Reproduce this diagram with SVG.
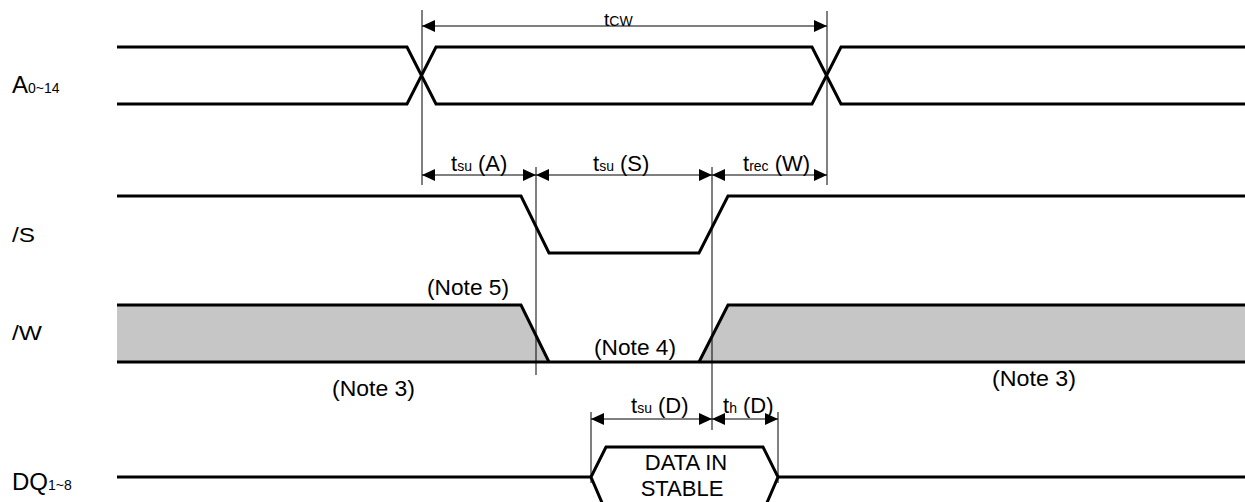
<svg xmlns="http://www.w3.org/2000/svg" width="1245" height="502" viewBox="0 0 1245 502">
<style>
.sig{fill:none;stroke:#000;stroke-width:3;stroke-linejoin:miter}
.ext{fill:none;stroke:#000;stroke-width:1}
.dim{fill:none;stroke:#000;stroke-width:1;marker-start:url(#ah);marker-end:url(#ah)}
.gray{fill:#c6c6c6;stroke:none}
text{font-family:"Liberation Sans",Arial,sans-serif;fill:#000}
.lbl{font-size:24px}
.lbl2{font-size:20px}
.sub{font-size:14px}
.t{font-size:22px}
.note{font-size:22px}
.data{font-size:22px}
</style>
<defs>
<marker id="ah" viewBox="0 0 13 12" refX="13" refY="6" markerWidth="13" markerHeight="12" markerUnits="userSpaceOnUse" orient="auto-start-reverse">
<path d="M0,0 L13,6 L0,12 z" fill="#000"/>
</marker>
</defs>
<rect width="1245" height="502" fill="#fff"/>

<g id="labels">
<text x="12" y="93" class="lbl">A<tspan class="sub">0~14</tspan></text>
<text x="12" y="242" class="lbl2" textLength="23" lengthAdjust="spacingAndGlyphs">/S</text>
<text x="12" y="340" class="lbl2" textLength="30" lengthAdjust="spacingAndGlyphs">/W</text>
<text x="12" y="490" class="lbl">DQ<tspan class="sub">1~8</tspan></text>
</g>

<g id="sig-A">
<path class="sig" d="M117,47 L407,47 L436,104 L812,104 L841,47 L1245,47"/>
<path class="sig" d="M117,104 L407,104 L436,47 L812,47 L841,104 L1245,104"/>
</g>

<g id="sig-S">
<path class="sig" d="M117,196 L521,196 L549,253 L699,253 L728,196 L1245,196"/>
</g>

<g id="sig-W">
<polygon class="gray" points="117,305 521,305 549,362 117,362"/>
<polygon class="gray" points="699,362 728,305 1245,305 1245,362"/>
<path class="sig" d="M117,305 L521,305 L549,362"/>
<path class="sig" d="M699,362 L728,305 L1245,305"/>
<path class="sig" d="M117,362 L1245,362"/>
<text x="427" y="295" class="note" textLength="82" lengthAdjust="spacingAndGlyphs">(Note 5)</text>
<text x="594" y="355" class="note" textLength="82" lengthAdjust="spacingAndGlyphs">(Note 4)</text>
<text x="332" y="396" class="note" textLength="83" lengthAdjust="spacingAndGlyphs">(Note 3)</text>
<text x="992" y="386" class="note" textLength="84" lengthAdjust="spacingAndGlyphs">(Note 3)</text>
</g>

<g id="sig-DQ">
<path class="sig" d="M117,477 L591,477"/>
<path class="sig" d="M778,477 L1245,477"/>
<path class="sig" d="M606,512 L591,477 L606,447 L763,447 L778,477 L763,512"/>
<text x="686" y="470" class="data" text-anchor="middle">DATA IN</text>
<text x="682" y="496" class="data" text-anchor="middle" font-size="21">STABLE</text>
</g>

<g id="connectors">
<line class="ext" x1="422" y1="10" x2="422" y2="185"/>
<line class="ext" x1="827" y1="11" x2="827" y2="185"/>
<line class="ext" x1="536" y1="167" x2="536" y2="375"/>
<line class="ext" x1="712" y1="167" x2="712" y2="430"/>
<line class="ext" x1="591" y1="412" x2="591" y2="483"/>
<line class="ext" x1="778" y1="412" x2="778" y2="483"/>
<line class="dim" x1="422" y1="26" x2="827" y2="26"/>
<line class="dim" x1="422" y1="175" x2="536" y2="175"/>
<line class="dim" x1="536" y1="175" x2="712" y2="175"/>
<line class="dim" x1="712" y1="175" x2="827" y2="175"/>
<line class="dim" x1="591" y1="419" x2="712" y2="419"/>
<line class="dim" x1="712" y1="419" x2="778" y2="419"/>
</g>

<g id="timing-labels">
<text x="604" y="26" font-size="19">t<tspan font-size="14">CW</tspan></text>
<text x="451" y="171" class="t">t<tspan class="sub">su</tspan> (A)</text>
<text x="593" y="171" class="t">t<tspan class="sub">su</tspan> (S)</text>
<text x="743" y="171" class="t">t<tspan class="sub">rec</tspan> (W)</text>
<text x="631" y="413" class="t">t<tspan class="sub">su</tspan> (D)</text>
<text x="723" y="413" class="t">t<tspan class="sub">h</tspan> (D)</text>
</g>
</svg>
